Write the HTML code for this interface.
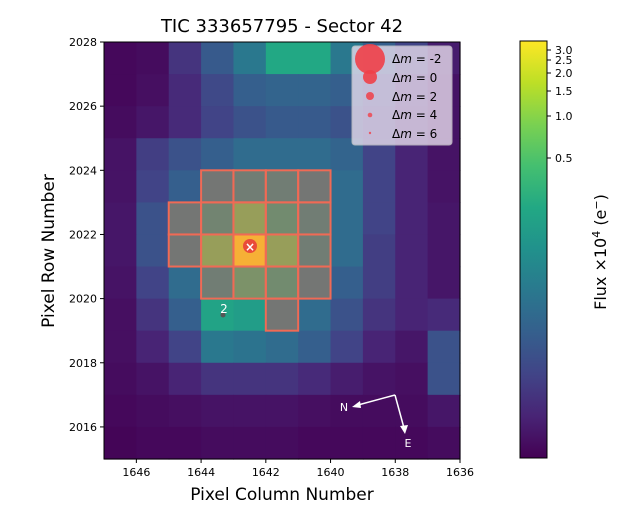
<!DOCTYPE html>
<html><head><meta charset="utf-8"><style>
body{margin:0;background:#fff}
svg text{font-family:"DejaVu Sans","Liberation Sans",sans-serif}
</style></head><body>
<svg id="s" width="621" height="520" xmlns="http://www.w3.org/2000/svg">
<defs>
<linearGradient id="vg" x1="0" y1="1" x2="0" y2="0">
<stop offset="0" stop-color="#440154"/><stop offset="0.1" stop-color="#482475"/><stop offset="0.2" stop-color="#414487"/><stop offset="0.3" stop-color="#355f8d"/><stop offset="0.4" stop-color="#2a788e"/><stop offset="0.5" stop-color="#21918c"/><stop offset="0.6" stop-color="#22a884"/><stop offset="0.7" stop-color="#44bf70"/><stop offset="0.8" stop-color="#7ad151"/><stop offset="0.9" stop-color="#bddf26"/><stop offset="1" stop-color="#fde725"/>
</linearGradient>
</defs>
<g id="grid"></g>
<g id="ap" fill="none" stroke="#f06a55" stroke-width="2"></g>
<rect x="104" y="42" width="356" height="417" fill="none" stroke="#000" stroke-width="1"/>
<circle cx="250" cy="246" r="7" fill="#e8403a" opacity="0.9"/>
<text x="250" y="251" font-size="12" fill="#fff" text-anchor="middle" font-weight="bold">×</text>
<circle cx="223" cy="315" r="2.5" fill="#555"/>
<text x="224" y="313" font-size="12" fill="#fff" text-anchor="middle">2</text>
<g stroke="#fff" stroke-width="1.5" fill="#fff">
<line x1="395" y1="395" x2="358" y2="405"/><polygon points="352,407 360,401 361,408" stroke="none"/>
<line x1="395" y1="395" x2="404" y2="428"/><polygon points="405,434 400,426 408,425" stroke="none"/>
</g>
<text x="344" y="411" font-size="11" fill="#fff" text-anchor="middle">N</text>
<text x="408" y="447" font-size="11" fill="#fff" text-anchor="middle">E</text>
<rect x="352" y="46" width="100" height="99" rx="3" fill="#e6dcec" opacity="0.8" stroke="#ccc"/>
<circle cx="370" cy="59" r="15" fill="#f04048" opacity="0.9"/>
<circle cx="370" cy="77" r="7" fill="#f04048" opacity="0.9"/>
<circle cx="370" cy="96" r="4" fill="#f04048" opacity="0.85"/>
<circle cx="370" cy="115" r="2.3" fill="#f04048" opacity="0.8"/>
<circle cx="370" cy="133" r="1.2" fill="#f04048" opacity="0.8"/>
<g font-size="12" fill="#000">
<text x="392" y="63">Δ<tspan font-style="italic">m</tspan> =  -2</text>
<text x="392" y="82">Δ<tspan font-style="italic">m</tspan> =  0</text>
<text x="392" y="101">Δ<tspan font-style="italic">m</tspan> =  2</text>
<text x="392" y="119">Δ<tspan font-style="italic">m</tspan> =  4</text>
<text x="392" y="138">Δ<tspan font-style="italic">m</tspan> =  6</text>
</g>
<g id="ticks" font-size="11" fill="#000"></g>
<text x="282" y="32" font-size="18" text-anchor="middle">TIC 333657795 - Sector 42</text>
<text x="282" y="500" font-size="17" text-anchor="middle">Pixel Column Number</text>
<text transform="translate(54,251) rotate(-90)" font-size="17" text-anchor="middle">Pixel Row Number</text>
<rect x="520" y="41" width="27" height="417" fill="url(#vg)" stroke="#000" stroke-width="1"/>
<g font-size="11" fill="#000" stroke="#000">
<line x1="547" y1="50" x2="551" y2="50"/><text x="555" y="54" stroke="none">3.0</text>
<line x1="547" y1="60" x2="551" y2="60"/><text x="555" y="64" stroke="none">2.5</text>
<line x1="547" y1="73" x2="551" y2="73"/><text x="555" y="77" stroke="none">2.0</text>
<line x1="547" y1="91" x2="551" y2="91"/><text x="555" y="95" stroke="none">1.5</text>
<line x1="547" y1="116" x2="551" y2="116"/><text x="555" y="120" stroke="none">1.0</text>
<line x1="547" y1="158" x2="551" y2="158"/><text x="555" y="162" stroke="none">0.5</text>
</g>
<text transform="translate(606,252) rotate(-90)" font-size="16" text-anchor="middle">Flux ×10<tspan font-size="11" dy="-6">4</tspan><tspan dy="6"> (e</tspan><tspan font-size="11" dy="-6">−</tspan><tspan dy="6">)</tspan></text>
</svg>
<script>
var V=[
[0.02,0.03,0.15,0.28,0.4,0.6,0.6,0.4,0.3,0.2,0.08],
[0.02,0.04,0.12,0.22,0.3,0.32,0.32,0.3,0.22,0.12,0.05],
[0.03,0.06,0.12,0.2,0.25,0.28,0.28,0.25,0.18,0.1,0.05],
[0.05,0.18,0.25,0.3,0.35,0.35,0.35,0.32,0.2,0.1,0.05],
[0.05,0.2,0.3,0.45,0.5,0.5,0.45,0.35,0.2,0.1,0.05],
[0.06,0.25,0.45,0.55,0.75,0.6,0.5,0.35,0.2,0.1,0.06],
[0.06,0.25,0.45,0.75,1.0,0.75,0.5,0.35,0.18,0.1,0.06],
[0.05,0.2,0.35,0.5,0.65,0.6,0.45,0.3,0.18,0.1,0.06],
[0.04,0.15,0.3,0.58,0.55,0.45,0.35,0.25,0.15,0.1,0.12],
[0.04,0.1,0.2,0.4,0.38,0.35,0.3,0.2,0.1,0.06,0.25],
[0.03,0.05,0.1,0.15,0.15,0.15,0.12,0.08,0.05,0.04,0.25],
[0.02,0.03,0.04,0.05,0.05,0.05,0.04,0.03,0.03,0.03,0.06],
[0.01,0.02,0.02,0.03,0.03,0.03,0.02,0.02,0.02,0.02,0.03]];
var S=[[68,1,84],[72,36,117],[65,68,135],[53,95,141],[42,120,142],[33,145,140],[34,168,132],[68,191,112],[122,209,81],[189,223,38],[253,231,37]];
function vir(t){t=Math.max(0,Math.min(1,t))*10;var i=Math.min(9,Math.floor(t)),f=t-i;return 'rgb('+S[i].map((c,k)=>Math.round(c+(S[i+1][k]-c)*f)).join(',')+')';}
var ns='http://www.w3.org/2000/svg',g=document.getElementById('grid'),ap=document.getElementById('ap');
var X0=104,Y0=42,W=356/11,H=417/13;
function R(p,x,y,w,h,a){var r=document.createElementNS(ns,'rect');r.setAttribute('x',x);r.setAttribute('y',y);r.setAttribute('width',w);r.setAttribute('height',h);for(var k in a)r.setAttribute(k,a[k]);p.appendChild(r);}
for(var i=0;i<13;i++)for(var j=0;j<11;j++)R(g,X0+j*W,Y0+i*H,W+0.6,H+0.6,{fill:vir(V[i][j])});
var A=[[4,3],[4,4],[4,5],[4,6],[5,2],[5,3],[5,4],[5,5],[5,6],[6,2],[6,3],[6,4],[6,5],[6,6],[7,3],[7,4],[7,5],[7,6],[8,5]];
A.forEach(function(a){R(ap,X0+a[1]*W,Y0+a[0]*H,W,H,{fill:'rgba(235,95,80,0.4)'});});
var T=document.getElementById('ticks');
function L(x1,y1,x2,y2){var l=document.createElementNS(ns,'line');l.setAttribute('x1',x1);l.setAttribute('y1',y1);l.setAttribute('x2',x2);l.setAttribute('y2',y2);l.setAttribute('stroke','#000');T.appendChild(l);}
function Tx(x,y,s,an){var t=document.createElementNS(ns,'text');t.setAttribute('x',x);t.setAttribute('y',y);t.setAttribute('text-anchor',an);t.textContent=s;T.appendChild(t);}
for(var c=1646;c>=1636;c-=2){var x=X0+(1647-c)*W;L(x,459,x,463);Tx(x,476,c,'middle');}
for(var r=2016;r<=2028;r+=2){var y=Y0+(2028-r)*H;L(100,y,104,y);Tx(97,y+4,r,'end');}
</script>
</body></html>
